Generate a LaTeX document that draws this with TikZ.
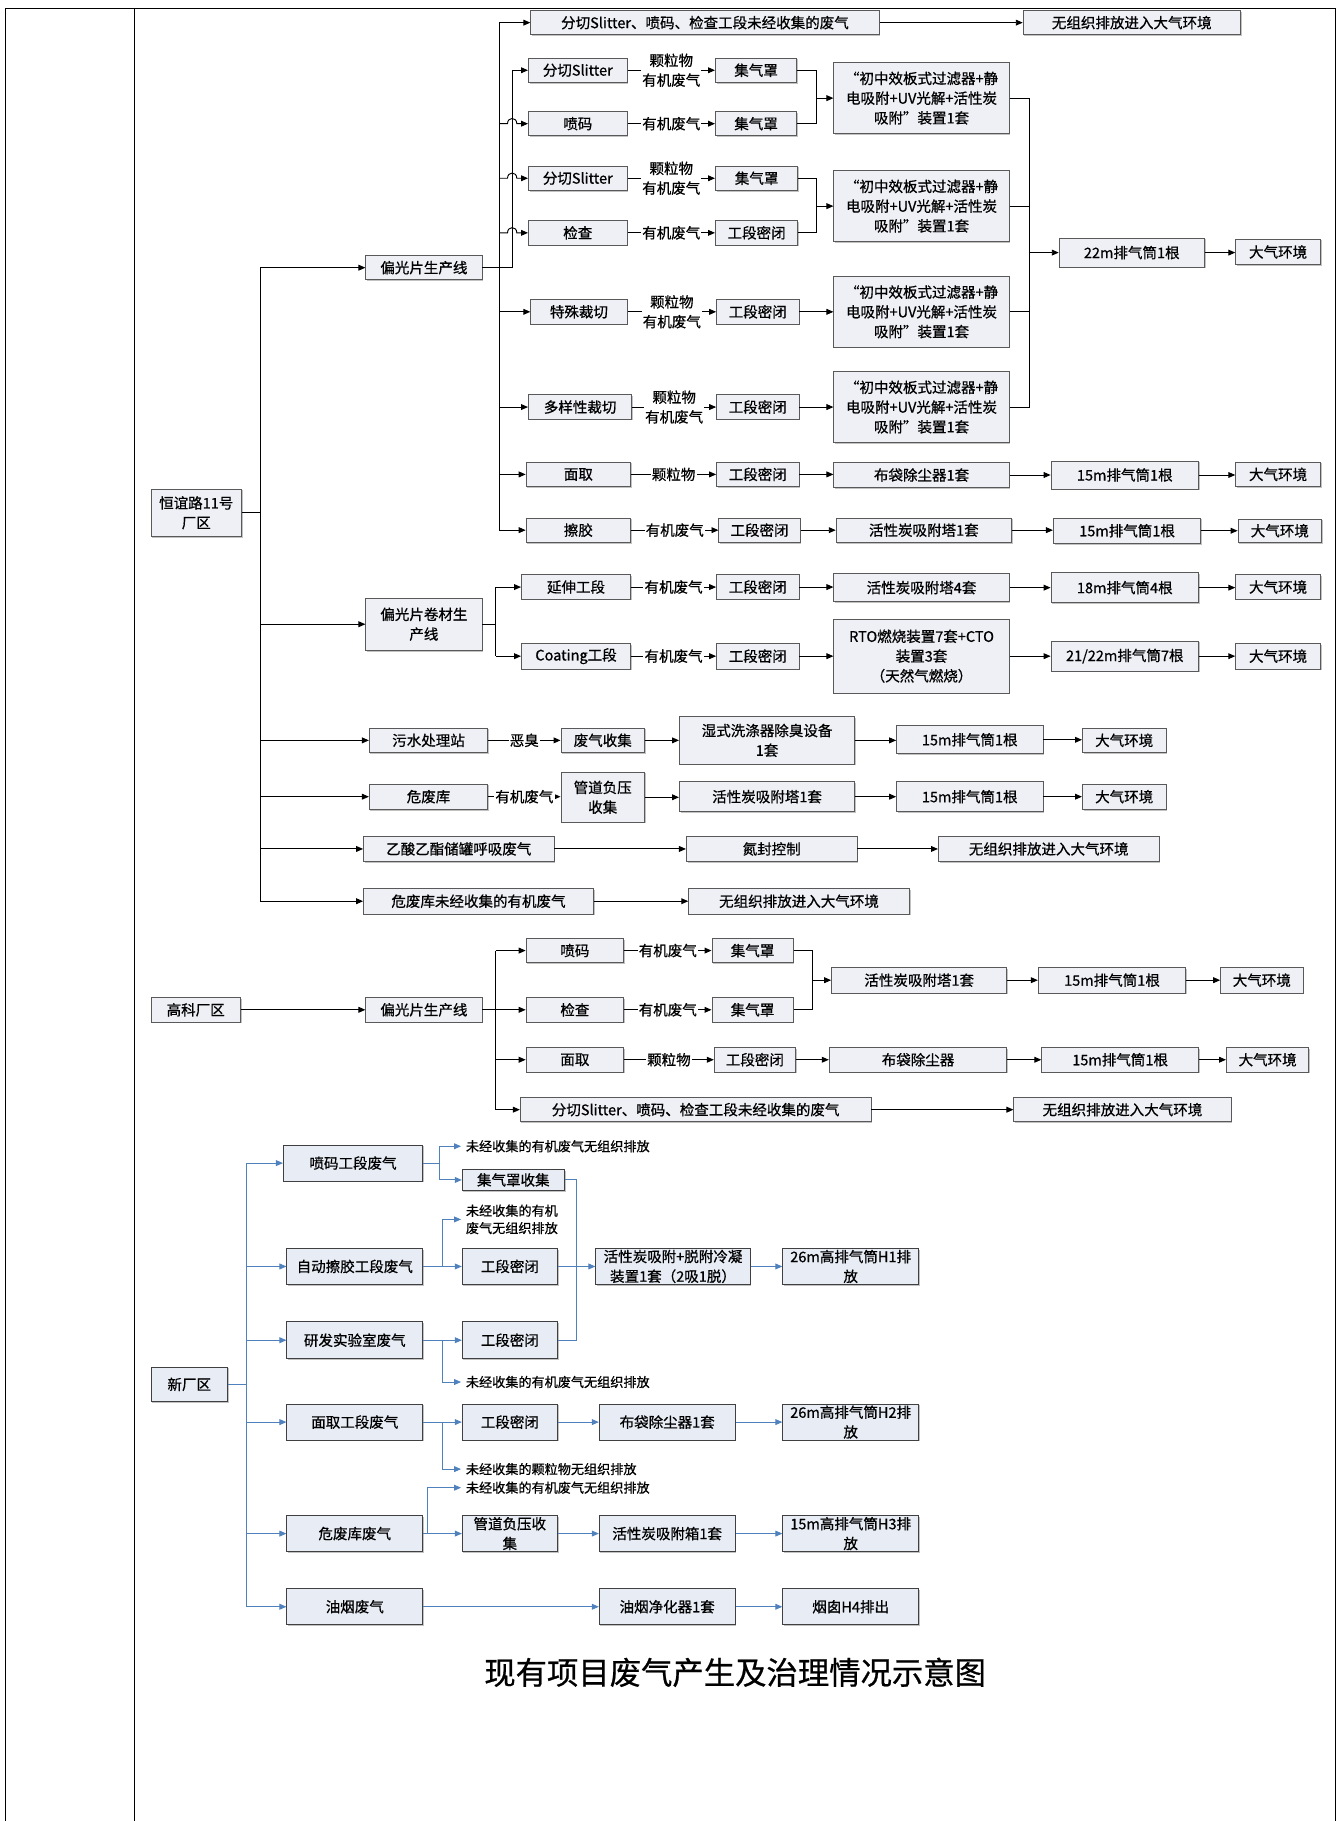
\documentclass[tikz,border=0pt]{standalone}
\usepackage{fontspec}
\setmainfont{Noto Sans CJK SC}[FakeBold=0.7]
\usetikzlibrary{arrows.meta,calc,shadows}
\definecolor{bfill}{RGB}{238,240,245}
\definecolor{nfill}{RGB}{231,236,245}
\definecolor{bline}{RGB}{79,129,189}
\newcommand\mybox[7][]{\node[box,#1,minimum width={#5pt-#3pt},minimum height={#6pt-#4pt}] (#2) at ({(#3+#5)/2},{(#4+#6)/2}) {#7};}
\newcommand\harr[3][ar]{\draw[#1] (#2.east) -- (#2.east -| #3.west);}
\newcommand\hopto[1]{\draw[ar] (s1 |- #1.west) -- ($(s2 |- #1.west)+(-4,0)$) .. controls ($(s2 |- #1.west)+(-4,-6)$) and ($(s2 |- #1.west)+(4,-6)$) .. ($(s2 |- #1.west)+(4,0)$) -- (#1.west);}
\begin{document}
\begin{tikzpicture}[x=1pt,y=-1pt,
  box/.style={draw=black!65, line width=0.7pt, fill=bfill, align=center, inner sep=1pt,
    font=\fontsize{12.5}{17}\selectfont,
    drop shadow={shadow xshift=1pt,shadow yshift=-1pt,fill=black!40,opacity=0.6}},
  nbox/.style={fill=nfill, draw=black!75},
  ln/.style={draw=black, line width=0.8pt},
  ar/.style={ln, -{Triangle[length=6pt,width=5pt]}},
  lab/.style={fill=white, inner sep=1pt, align=center, font=\fontsize{12.5}{17}\selectfont},
  bln/.style={draw=bline, line width=0.8pt},
  bar/.style={bln, -{Triangle[length=6pt,width=5pt]}},
  note/.style={anchor=west, inner xsep=4pt, inner ysep=1pt, align=left, font=\fontsize{11.3}{15}\selectfont},
  frame/.style={draw=black, line width=1pt}]
\useasboundingbox (0,0) rectangle (1156,1568);
\draw[frame] (5,1568) -- (5,7) -- (1150,7) -- (1150,1568);
\draw[frame] (116,7) -- (116,1568);

\coordinate (t1) at (224,0);
\coordinate (s1) at (430,0);
\coordinate (s2) at (441,0);
\coordinate (m1) at (703,0);
\coordinate (c1) at (886,0);
\coordinate (s4) at (427,0);
\coordinate (s5) at (427,0);
\coordinate (m2) at (700,0);
\coordinate (s3) at (212,0);
\coordinate (k1) at (378,0);
\coordinate (k2) at (381,0);
\coordinate (k3) at (496,0);
\coordinate (k5) at (368,0);

% ---------- Section 1 ----------
\mybox{hy}{130}{421}{208}{462}{恒谊路11号\\厂区}
\mybox{gp1}{315}{220}{415}{241}{偏光片生产线}
\mybox{a0}{457}{9}{757}{30}{分切Slitter、喷码、检查工段未经收集的废气}
\mybox{a0e}{881}{9}{1068}{30}{无组织排放进入大气环境}
\mybox{fq1}{455}{50}{540}{71}{分切Slitter}
\mybox{jq1}{616}{50}{686}{71}{集气罩}
\mybox{pm1}{455}{96}{540}{117}{喷码}
\mybox{jq2}{616}{96}{686}{117}{集气罩}
\mybox{dv1}{718}{54}{869}{115}{“初中效板式过滤器+静\\电吸附+UV光解+活性炭\\吸附”装置1套}
\mybox{fq2}{455}{143}{540}{164}{分切Slitter}
\mybox{jq3}{616}{143}{687}{164}{集气罩}
\mybox{jc1}{455}{190}{540}{211}{检查}
\mybox{gm1}{616}{190}{687}{211}{工段密闭}
\mybox{dv2}{718}{147}{869}{208}{“初中效板式过滤器+静\\电吸附+UV光解+活性炭\\吸附”装置1套}
\mybox{ts}{457}{258}{540}{279}{特殊裁切}
\mybox{gm2}{617}{258}{688}{279}{工段密闭}
\mybox{dv3}{718}{238}{869}{299}{“初中效板式过滤器+静\\电吸附+UV光解+活性炭\\吸附”装置1套}
\mybox{dy}{455}{340}{544}{361}{多样性裁切}
\mybox{gm3}{617}{340}{688}{361}{工段密闭}
\mybox{dv4}{718}{320}{869}{381}{“初中效板式过滤器+静\\电吸附+UV光解+活性炭\\吸附”装置1套}
\mybox{p22}{912}{205}{1037}{230}{22m排气筒1根}
\mybox{dq1}{1064}{206}{1137}{228}{大气环境}
\mybox{mq1}{453}{398}{543}{419}{面取}
\mybox{gm4}{617}{398}{688}{419}{工段密闭}
\mybox{bd1}{718}{398}{869}{420}{布袋除尘器1套}
\mybox{p15a}{905}{397}{1032}{421}{15m排气筒1根}
\mybox{dq2}{1064}{398}{1137}{419}{大气环境}
\mybox{cj}{453}{446}{543}{467}{擦胶}
\mybox{gm5}{619}{446}{689}{467}{工段密闭}
\mybox{hx1}{720}{446}{871}{467}{活性炭吸附塔1套}
\mybox{p15b}{907}{446}{1034}{468}{15m排气筒1根}
\mybox{dq3}{1066}{447}{1138}{467}{大气环境}

\mybox{jc}{315}{515}{415}{560}{偏光片卷材生\\产线}
\mybox{ys}{449}{495}{543}{516}{延伸工段}
\mybox{gm6}{617}{495}{688}{516}{工段密闭}
\mybox{hx4}{718}{494}{869}{518}{活性炭吸附塔4套}
\mybox{p18}{905}{493}{1032}{519}{18m排气筒4根}
\mybox{dq4}{1064}{495}{1137}{516}{大气环境}
\mybox{ct}{449}{554}{543}{576}{Coating工段}
\mybox{gm7}{617}{554}{688}{576}{工段密闭}
\mybox{rto}{718}{533}{869}{597}{RTO燃烧装置7套+CTO\\装置3套\\（天然气燃烧）}
\mybox{p21}{905}{552}{1032}{578}{21/22m排气筒7根}
\mybox{dq5}{1064}{554}{1137}{576}{大气环境}

\mybox{ws}{318}{627}{420}{648}{污水处理站}
\mybox{fs}{483}{627}{555}{648}{废气收集}
\mybox{sx}{585}{617}{736}{658}{湿式洗涤器除臭设备\\1套}
\mybox{p15c}{772}{625}{898}{649}{15m排气筒1根}
\mybox{dq6}{932}{627}{1004}{648}{大气环境}
\mybox{wf}{318}{675}{420}{697}{危废库}
\mybox{gd}{483}{665}{555}{708}{管道负压\\收集}
\mybox{hx1b}{585}{673}{736}{699}{活性炭吸附塔1套}
\mybox{p15d}{772}{673}{898}{699}{15m排气筒1根}
\mybox{dq7}{932}{675}{1004}{697}{大气环境}
\mybox{yy}{313}{720}{477}{742}{乙酸乙酯储罐呼吸废气}
\mybox{df}{591}{720}{738}{742}{氮封控制}
\mybox{wz1}{808}{720}{998}{742}{无组织排放进入大气环境}
\mybox{wfu}{313}{765}{511}{787}{危废库未经收集的有机废气}
\mybox{wz2}{593}{765}{783}{787}{无组织排放进入大气环境}

\draw[ln] (hy.east) -- (t1 |- hy.east);
\draw[ln] (t1 |- gp1.west) -- (t1 |- wfu.west);
\foreach \n in {gp1,jc,ws,wf,yy,wfu} {\draw[ar] (t1 |- \n.west) -- (\n.west);}

\draw[ln] (s1 |- a0.west) -- (s1 |- cj.west);
\foreach \n in {a0,ts,dy,mq1,cj} {\draw[ar] (s1 |- \n.west) -- (\n.west);}
\draw[ar] (gp1.east) -- (s2 |- gp1.east) -- (s2 |- fq1.west) -- (fq1.west);
\hopto{pm1}
\hopto{fq2}
\hopto{jc1}
\harr{a0}{a0e}

\draw[ar] (fq1.east) -- node[lab]{颗粒物\\有机废气} (fq1.east -| jq1.west);
\draw[ar] (pm1.east) -- node[lab]{有机废气} (pm1.east -| jq2.west);
\draw[ln] (jq1.east) -- (m1 |- jq1.east) -- (m1 |- jq2.east) -- (jq2.east);
\draw[ar] (m1 |- dv1.west) -- (dv1.west);
\draw[ar] (fq2.east) -- node[lab]{颗粒物\\有机废气} (fq2.east -| jq3.west);
\draw[ar] (jc1.east) -- node[lab]{有机废气} (jc1.east -| gm1.west);
\draw[ln] (jq3.east) -- (m1 |- jq3.east) -- (m1 |- gm1.east) -- (gm1.east);
\draw[ar] (m1 |- dv2.west) -- (dv2.west);
\draw[ar] (ts.east) -- node[lab]{颗粒物\\有机废气} (ts.east -| gm2.west);
\harr{gm2}{dv3}
\draw[ar] (dy.east) -- node[lab]{颗粒物\\有机废气} (dy.east -| gm3.west);
\harr{gm3}{dv4}
\draw[ln] (dv1.east) -- (c1 |- dv1.east) -- (c1 |- dv4.east) -- (dv4.east);
\draw[ln] (dv2.east) -- (c1 |- dv2.east);
\draw[ln] (dv3.east) -- (c1 |- dv3.east);
\draw[ar] (c1 |- p22.west) -- (p22.west);
\harr{p22}{dq1}

\draw[ar] (mq1.east) -- node[lab]{颗粒物} (mq1.east -| gm4.west);
\harr{gm4}{bd1} \harr{bd1}{p15a} \harr{p15a}{dq2}
\draw[ar] (cj.east) -- node[lab]{有机废气} (cj.east -| gm5.west);
\harr{gm5}{hx1} \harr{hx1}{p15b} \harr{p15b}{dq3}

\draw[ln] (jc.east) -- (s4 |- jc.east);
\draw[ln] (s4 |- ys.west) -- (s4 |- ct.west);
\draw[ar] (s4 |- ys.west) -- (ys.west);
\draw[ar] (s4 |- ct.west) -- (ct.west);
\draw[ar] (ys.east) -- node[lab]{有机废气} (ys.east -| gm6.west);
\harr{gm6}{hx4} \harr{hx4}{p18} \harr{p18}{dq4}
\draw[ar] (ct.east) -- node[lab]{有机废气} (ct.east -| gm7.west);
\harr{gm7}{rto} \harr{rto}{p21} \harr{p21}{dq5}

\draw[ar] (ws.east) -- node[lab]{恶臭} (ws.east -| fs.west);
\harr{fs}{sx} \harr{sx}{p15c} \harr{p15c}{dq6}
\draw[ar] (wf.east) -- node[lab]{有机废气} (wf.east -| gd.west);
\harr{gd}{hx1b} \harr{hx1b}{p15d} \harr{p15d}{dq7}
\harr{yy}{df} \harr{df}{wz1}
\harr{wfu}{wz2}

% ---------- Section 2 ----------
\mybox{gk}{130}{859}{207}{880}{高科厂区}
\mybox{gp2}{315}{859}{415}{880}{偏光片生产线}
\mybox{pm2}{453}{808}{537}{829}{喷码}
\mybox{jq4}{613}{808}{683}{829}{集气罩}
\mybox{jc2}{453}{859}{537}{880}{检查}
\mybox{jq5}{613}{859}{683}{880}{集气罩}
\mybox{hx2}{716}{833}{867}{855}{活性炭吸附塔1套}
\mybox{p15e}{894}{833}{1021}{855}{15m排气筒1根}
\mybox{dq8}{1051}{833}{1122}{855}{大气环境}
\mybox{mq2}{453}{902}{537}{923}{面取}
\mybox{gm8}{615}{902}{685}{923}{工段密闭}
\mybox{bd2}{714}{902}{867}{923}{布袋除尘器}
\mybox{p15f}{897}{902}{1032}{923}{15m排气筒1根}
\mybox{dq9}{1056}{902}{1127}{923}{大气环境}
\mybox{a1}{448}{945}{750}{966}{分切Slitter、喷码、检查工段未经收集的废气}
\mybox{wz3}{873}{945}{1060}{966}{无组织排放进入大气环境}

\harr{gk}{gp2}
\draw[ln] (gp2.east) -- (s5 |- gp2.east);
\draw[ln] (s5 |- pm2.west) -- (s5 |- a1.west);
\foreach \n in {pm2,jc2,mq2,a1} {\draw[ar] (s5 |- \n.west) -- (\n.west);}
\draw[ar] (pm2.east) -- node[lab]{有机废气} (pm2.east -| jq4.west);
\draw[ar] (jc2.east) -- node[lab]{有机废气} (jc2.east -| jq5.west);
\draw[ln] (jq4.east) -- (m2 |- jq4.east) -- (m2 |- jq5.east) -- (jq5.east);
\draw[ar] (m2 |- hx2.west) -- (hx2.west);
\harr{hx2}{p15e} \harr{p15e}{dq8}
\draw[ar] (mq2.east) -- node[lab]{颗粒物} (mq2.east -| gm8.west);
\harr{gm8}{bd2} \harr{bd2}{p15f} \harr{p15f}{dq9}
\harr{a1}{wz3}

% ---------- Section 3 ----------
\mybox[nbox]{xc}{130}{1177}{196}{1207}{新厂区}
\mybox[nbox]{b1}{244}{986}{364}{1017}{喷码工段废气}
\mybox[nbox]{b2}{247}{1075}{364}{1106}{自动擦胶工段废气}
\mybox[nbox]{b3}{247}{1138}{364}{1170}{研发实验室废气}
\mybox[nbox]{b4}{247}{1209}{364}{1240}{面取工段废气}
\mybox[nbox]{b5}{247}{1305}{364}{1336}{危废库废气}
\mybox[nbox]{b6}{247}{1368}{364}{1399}{油烟废气}
\mybox[nbox]{jqs}{398}{1007}{486}{1025}{集气罩收集}
\mybox[nbox]{g1}{398}{1075}{480}{1106}{工段密闭}
\mybox[nbox]{g2}{398}{1138}{480}{1170}{工段密闭}
\mybox[nbox]{g3}{398}{1209}{480}{1240}{工段密闭}
\mybox[nbox]{gdf}{398}{1305}{480}{1336}{管道负压收\\集}
\mybox[nbox]{hxt}{513}{1075}{646}{1106}{活性炭吸附+脱附冷凝\\装置1套（2吸1脱）}
\mybox[nbox]{bd3}{516}{1209}{633}{1240}{布袋除尘器1套}
\mybox[nbox]{hxx}{516}{1305}{633}{1336}{活性炭吸附箱1套}
\mybox[nbox]{yj}{516}{1368}{633}{1399}{油烟净化器1套}
\mybox[nbox]{h1}{674}{1075}{791}{1106}{26m高排气筒H1排\\放}
\mybox[nbox]{h2}{674}{1209}{791}{1240}{26m高排气筒H2排\\放}
\mybox[nbox]{h3}{674}{1305}{791}{1336}{15m高排气筒H3排\\放}
\mybox[nbox]{h4}{674}{1368}{791}{1399}{烟囱H4排出}
\node[note] (u1) at (397,987) {未经收集的有机废气无组织排放};
\node[note] (u2) at (397,1050) {未经收集的有机\\废气无组织排放};
\node[note] (u3) at (397,1190) {未经收集的有机废气无组织排放};
\node[note] (u4) at (397,1265) {未经收集的颗粒物无组织排放};
\node[note] (u5) at (397,1281) {未经收集的有机废气无组织排放};

\draw[bln] (xc.east) -- (s3 |- xc.east);
\draw[bln] (s3 |- b1.west) -- (s3 |- b6.west);
\foreach \n in {b1,b2,b3,b4,b5,b6} {\draw[bar] (s3 |- \n.west) -- (\n.west);}
\draw[bar] (b1.east) -- (k1 |- b1.east) |- (jqs.west);
\draw[bar] (k1 |- b1.east) |- (u1.west);
\harr[bar]{b2}{g1}
\draw[bar] (k2 |- b2.east) |- (u2.west);
\harr[bar]{b3}{g2}
\draw[bar] (k2 |- b3.east) |- (u3.west);
\harr[bar]{b4}{g3}
\draw[bar] (k2 |- b4.east) |- (u4.west);
\harr[bar]{b5}{gdf}
\draw[bar] (k5 |- b5.east) |- (u5.west);
\harr[bar]{b6}{yj}
\draw[bln] (jqs.east) -- (k3 |- jqs.east) -- (k3 |- g2.east) -- (g2.east);
\harr[bar]{g1}{hxt}
\harr[bar]{hxt}{h1}
\harr[bar]{g3}{bd3} \harr[bar]{bd3}{h2}
\harr[bar]{gdf}{hxx} \harr[bar]{hxx}{h3}
\harr[bar]{yj}{h4}

\node[font=\fontsize{27}{30}\selectfont, inner sep=0pt] (title) at (633,1440) {现有项目废气产生及治理情况示意图};
\end{tikzpicture}
\end{document}
